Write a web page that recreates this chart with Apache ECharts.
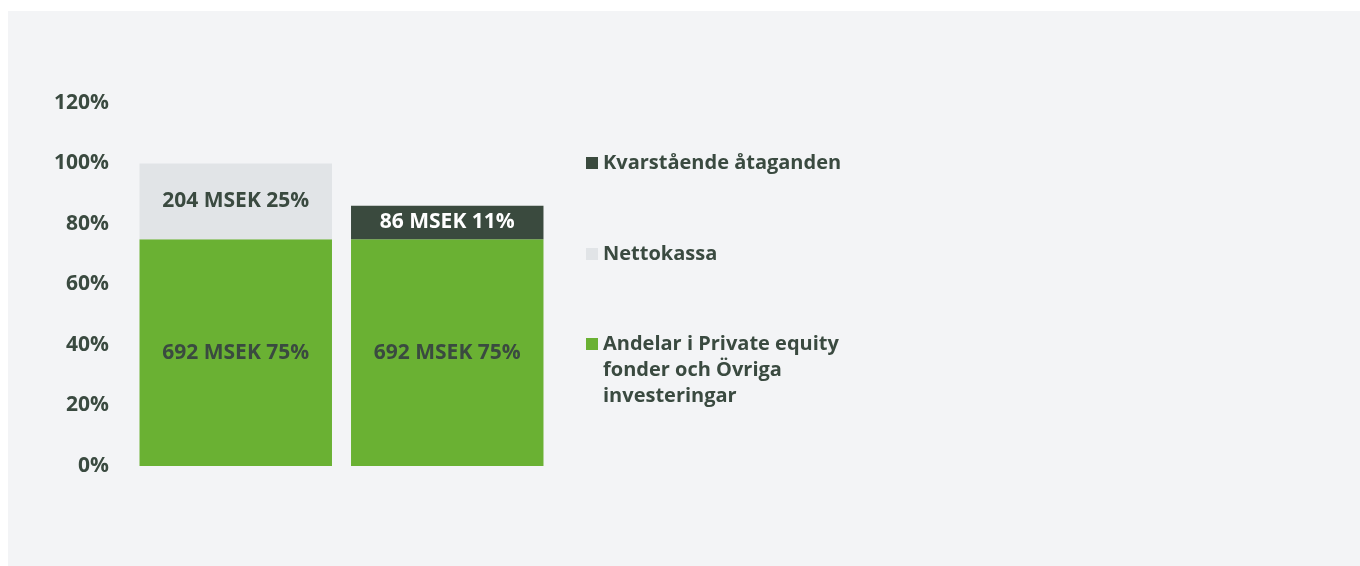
<!DOCTYPE html>
<html>
<head>
<meta charset="utf-8">
<script src="https://cdn.jsdelivr.net/npm/echarts@6/dist/echarts.min.js"></script>
<style>
html, body { margin: 0; padding: 0; background: #fff; }
#chart {
    position: absolute;
    left: 8px;
    top: 11px;
    width: 1352px;
    height: 555px;
    background: #f3f4f6;
}
</style>
</head>
<body>
<div id="chart"></div>
<script>
// data
var categories = ['A', 'B'];
var andelarPct = [75, 75];
var andelarMsek = [692, 692];
var nettokassaPct = [25, null];
var nettokassaMsek = [204, null];
var kvarPct = [null, 11];
var kvarMsek = [null, 86];
var yTicks = [0, 20, 40, 60, 80, 100, 120];

var textColor = '#3a4a40';
var fontFam = '"Open Sans", sans-serif';
var fontW = 'bold';
var fontS = 21;

function labelFmt(msek) {
    return function (p) {
        if (p.value == null) return '';
        return msek[p.dataIndex] + ' MSEK ' + p.value + '%';
    };
}

var chart = echarts.init(document.getElementById('chart'));

var legendBase = {
    orient: 'vertical',
    left: 573,
    itemWidth: 12,
    itemHeight: 12,
    icon: 'rect',
    textStyle: {
        color: textColor,
        fontFamily: fontFam,
        fontWeight: fontW,
        fontSize: 20,
        lineHeight: 26
    }
};

chart.setOption({
    animation: false,
    grid: {
        left: 122,
        top: 92,
        width: 423,
        height: 363
    },
    legend: [
        Object.assign({}, legendBase, { top: 134, data: ['Kvarstående åtaganden'] }),
        Object.assign({}, legendBase, { top: 225, data: ['Nettokassa'] }),
        Object.assign({}, legendBase, {
            top: 263,
            data: ['Andelar i Private equity\nfonder och Övriga\ninvesteringar'],
            // two empty lines on top so the icon sits next to the first line
            formatter: function (name) { return '\n\n' + name; }
        })
    ],
    xAxis: {
        type: 'category',
        data: categories,
        axisLine: { show: false },
        axisTick: { show: false },
        axisLabel: { show: false }
    },
    yAxis: {
        type: 'value',
        min: yTicks[0],
        max: yTicks[yTicks.length - 1],
        interval: 20,
        splitLine: { show: false },
        axisLine: { show: false },
        axisTick: { show: false },
        axisLabel: {
            formatter: '{value}%',
            margin: 21,
            padding: [4, 0, 0, 0],
            color: textColor,
            fontFamily: fontFam,
            fontWeight: fontW,
            fontSize: fontS
        }
    },
    series: [
        {
            name: 'Andelar i Private equity\nfonder och Övriga\ninvesteringar',
            type: 'bar',
            stack: 'total',
            barCategoryGap: '9%',
            data: andelarPct,
            itemStyle: { color: '#6ab133' },
            label: {
                show: true,
                position: 'inside',
                formatter: labelFmt(andelarMsek),
                color: textColor,
                fontFamily: fontFam,
                fontWeight: fontW,
                fontSize: fontS
            }
        },
        {
            name: 'Nettokassa',
            type: 'bar',
            stack: 'total',
            data: nettokassaPct,
            itemStyle: { color: '#e1e4e7' },
            label: {
                show: true,
                position: 'inside',
                formatter: labelFmt(nettokassaMsek),
                color: textColor,
                fontFamily: fontFam,
                fontWeight: fontW,
                fontSize: fontS
            }
        },
        {
            name: 'Kvarstående åtaganden',
            type: 'bar',
            stack: 'total',
            data: kvarPct,
            itemStyle: { color: '#3a4a3e' },
            label: {
                show: true,
                position: 'inside',
                formatter: labelFmt(kvarMsek),
                color: '#ffffff',
                fontFamily: fontFam,
                fontWeight: fontW,
                fontSize: fontS
            }
        }
    ]
});
</script>
</body>
</html>
